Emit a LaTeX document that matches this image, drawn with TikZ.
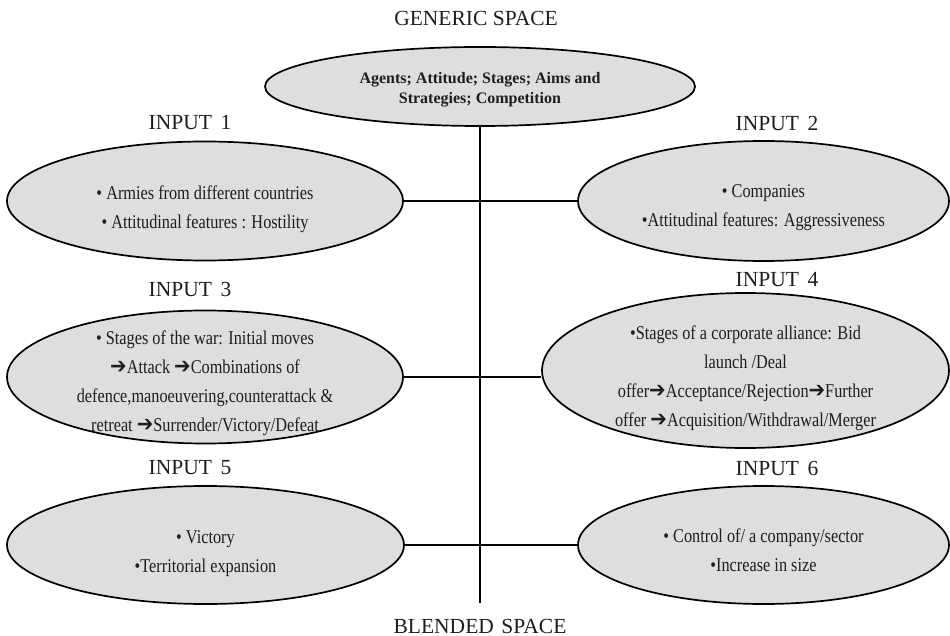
\documentclass[tikz,border=0pt]{standalone}
\usepackage{fontspec}
\setmainfont{Liberation Serif}
\newfontfamily\narrowfont[FakeStretch=0.835]{Liberation Serif}
\newfontfamily\arrowfont[FakeStretch=0.9]{DejaVu Sans}
\usetikzlibrary{shapes.geometric}
\definecolor{ellfill}{RGB}{222,222,222}
\definecolor{inkc}{RGB}{30,30,30}
\newcommand{\arr}{{\arrowfont\fontsize{22}{29}\selectfont\char"2794}}
\begin{document}
\begin{tikzpicture}[x=1pt,y=-1pt,
  spacebox/.style={ellipse, draw=black, line width=1.7pt, fill=ellfill, inner sep=0pt},
  spacetext/.style={inner sep=0pt, align=center, text=inkc,
    font=\narrowfont\fontsize{19.5}{29}\selectfont},
  gentext/.style={inner sep=0pt, align=center, text=inkc,
    font=\bfseries\fontsize{16}{20}\selectfont},
  title/.style={text=inkc, inner sep=0pt, font=\fontsize{21.5}{24}\selectfont},
  link/.style={draw=black, line width=1.3pt}]
\useasboundingbox[fill=white] (0,0) rectangle (950,636);

% titles
\node[title] (tgen) at (476,18) {GENERIC SPACE};
\node[title] (tblend) at (480,626) {BLENDED\hspace{0.35em}SPACE};
\node[title] (t1) at (190,123) {INPUT\hspace{0.4em}1};
\node[title] (t2) at (777,123) {INPUT\hspace{0.4em}2};
\node[title] (t3) at (190,289) {INPUT\hspace{0.4em}3};
\node[title] (t4) at (777,280) {INPUT\hspace{0.4em}4};
\node[title] (t5) at (190,468) {INPUT\hspace{0.4em}5};
\node[title] (t6) at (777,468) {INPUT\hspace{0.4em}6};

% vertical axis
\coordinate (axisbot) at (480,603);

% ellipses
\node[spacebox, minimum width=430pt, minimum height=79pt] (gen) at (480,86.5) {};
\node[gentext] (gent) at ([yshift=-3pt]gen.center)
  {Agents; Attitude; Stages; Aims and\\Strategies; Competition};
\draw[link] (gen.south) -- (axisbot);

\node[spacebox, minimum width=396pt, minimum height=119pt] (in1) at (205,201) {};
\node[spacetext] (in1t) at ([yshift=-8pt]in1.center)
  {• Armies from different countries\\• Attitudinal features : Hostility};
\node[spacebox, minimum width=371pt, minimum height=120pt] (in2) at (763.5,201) {};
\node[spacetext] (in2t) at ([yshift=-7pt]in2.center)
  {• Companies\\•Attitudinal features: Aggressiveness};
\node[spacebox, minimum width=396pt, minimum height=133pt] (in3) at (205,377) {};
\node[spacetext] (in3t) at ([yshift=-6pt]in3.center)
  {• Stages of the war: Initial moves\\\arr Attack \arr Combinations of\\defence,manoeuvering,counterattack \&\\retreat \arr Surrender/Victory/Defeat};
\node[spacebox, minimum width=407pt, minimum height=155pt] (in4) at (745.5,370.5) {};
\node[spacetext] (in4t) at ([yshift=-8pt]in4.center)
  {•Stages of a corporate alliance: Bid\\launch /Deal\\offer\arr Acceptance/Rejection\arr Further\\offer \arr Acquisition/Withdrawal/Merger};
\node[spacebox, minimum width=397pt, minimum height=118pt] (in5) at (205.5,545) {};
\node[spacetext] (in5t) at ([yshift=-9pt]in5.center)
  {• Victory\\•Territorial expansion};
\node[spacebox, minimum width=371pt, minimum height=118pt] (in6) at (763.5,545) {};
\node[spacetext] (in6t) at ([yshift=-5pt]in6.center)
  {• Control of/ a company/sector\\•Increase in size};

% connectors
\draw[link] (in1.east) -- (in2.west);
\draw[link] (in3.east) -- (in3.east -| in4.west);
\draw[link] (in5.east) -- (in6.west);
\end{tikzpicture}
\end{document}
